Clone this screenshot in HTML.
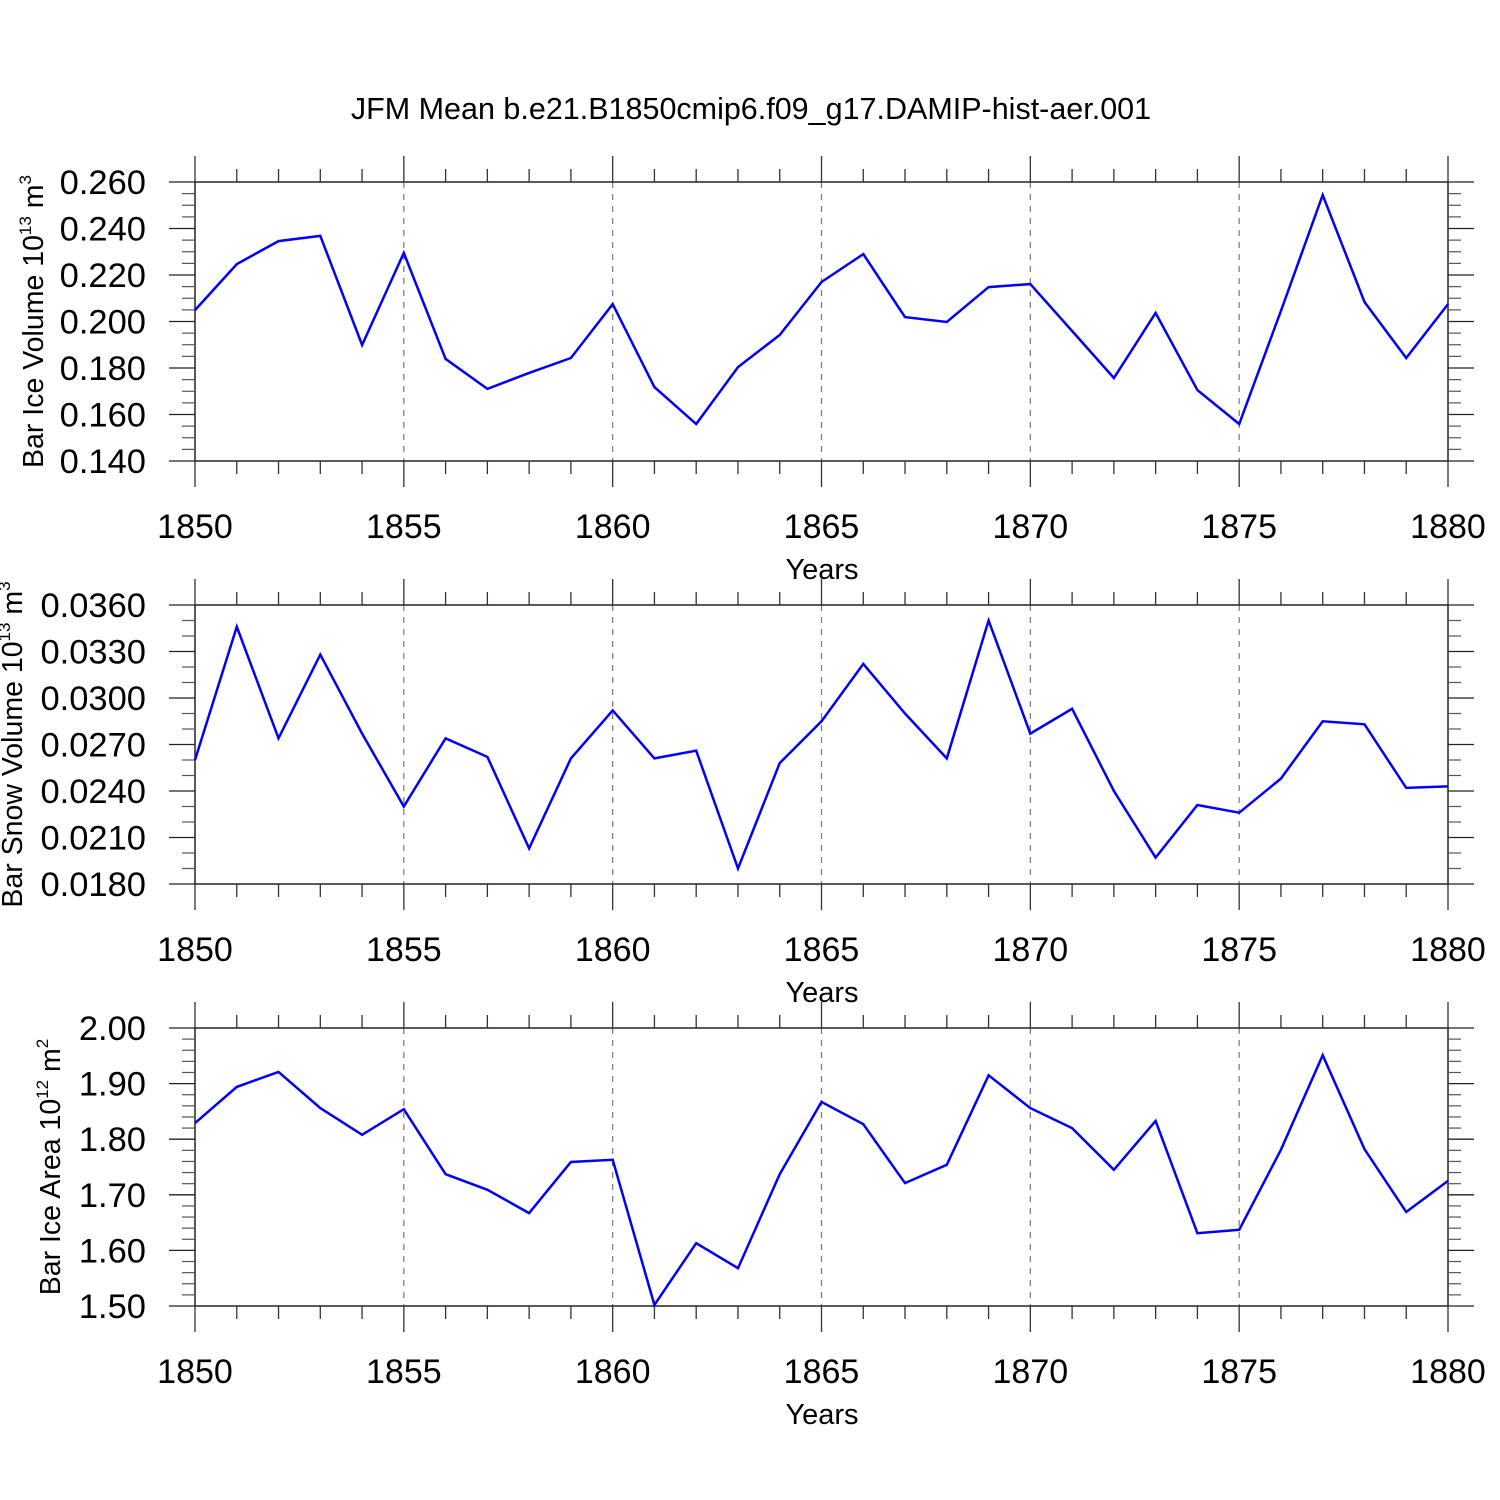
<!DOCTYPE html>
<html><head><meta charset="utf-8"><style>
html,body{margin:0;padding:0;background:#fff;}
svg{display:block;font-family:"Liberation Sans",Arial,sans-serif;}
</style></head><body>
<svg id="chart" width="1500" height="1500" viewBox="0 0 1500 1500" xmlns="http://www.w3.org/2000/svg">
<text x="751" y="119" font-size="30.5" text-anchor="middle">JFM Mean b.e21.B1850cmip6.f09_g17.DAMIP-hist-aer.001</text>
</svg>
<script>
const years = [1850,1851,1852,1853,1854,1855,1856,1857,1858,1859,1860,1861,1862,1863,1864,1865,1866,1867,1868,1869,1870,1871,1872,1873,1874,1875,1876,1877,1878,1879,1880];
const iceVolume = [0.2049,0.2247,0.2346,0.2368,0.1899,0.2295,0.1839,0.1710,0.1779,0.1843,0.2075,0.1718,0.1559,0.1804,0.1942,0.2170,0.2290,0.2019,0.1998,0.2148,0.2161,0.1959,0.1757,0.2037,0.1705,0.1559,0.2045,0.2544,0.2084,0.1843,0.2075];
const snowVolume = [0.0260,0.0346,0.0274,0.0328,0.0277,0.0230,0.0274,0.0262,0.0203,0.0261,0.0292,0.0261,0.0266,0.0190,0.0258,0.0285,0.0322,0.0290,0.0261,0.0350,0.0277,0.0293,0.0240,0.0197,0.0231,0.0226,0.0248,0.0285,0.0283,0.0242,0.0243];
const iceArea = [1.829,1.894,1.921,1.856,1.808,1.854,1.737,1.709,1.667,1.759,1.763,1.502,1.613,1.568,1.737,1.867,1.827,1.721,1.754,1.915,1.856,1.820,1.745,1.833,1.631,1.637,1.781,1.951,1.782,1.669,1.725];
const xTickLabels = ["1850","1855","1860","1865","1870","1875","1880"];
const yTicks1 = [0.140,0.160,0.180,0.200,0.220,0.240,0.260];
const yTicks2 = [0.018,0.021,0.024,0.027,0.030,0.033,0.036];
const yTicks3 = [1.50,1.60,1.70,1.80,1.90,2.00];

const svg = document.getElementById('chart');
const NS = 'http://www.w3.org/2000/svg';
function mk(tag, attrs, parent){
  const e = document.createElementNS(NS, tag);
  for (const k in attrs) e.setAttribute(k, attrs[k]);
  (parent||svg).appendChild(e);
  return e;
}
const X0 = 195, X1 = 1448;
function xs(v){ return X0 + (v-1850)/(1880-1850)*(X1-X0); }

function panel(cfg){
  const {top, bot, ymin, ymax, ticks, minors, decimals, values, title, sup, unit, titleX, name} = cfg;
  const ys = v => bot - (v-ymin)/(ymax-ymin)*(bot-top);
  const g = mk('g', {});
  
  
  for (let yr=1855; yr<=1875; yr+=5){
    const l = mk('line', {x1:xs(yr), x2:xs(yr), y1:top, y2:bot, stroke:'#777', 'stroke-width':1.2, 'stroke-dasharray':'6,6'}, g);
    
    
  }
  const fr = mk('rect', {x:X0, y:top, width:X1-X0, height:bot-top, fill:'none', stroke:'#222', 'stroke-width':1.5}, g);
  
  
  for (const yr of years){
    const major = (yr % 5 === 0);
    const len = major ? 26 : 13;
    const x = xs(yr);
    mk('line', {x1:x, x2:x, y1:top-len, y2:top, stroke:'#333', 'stroke-width':1.3}, g);
    mk('line', {x1:x, x2:x, y1:bot, y2:bot+len, stroke:'#333', 'stroke-width':1.3}, g);
  }
  xTickLabels.forEach(s => {
    const t = mk('text', {x:xs(+s), y:bot+77, 'font-size':34, 'text-anchor':'middle'}, g);
    t.textContent = s;
    
    
  });
  const xt = mk('text', {x:822, y:bot+118, 'font-size':29, 'text-anchor':'middle'}, g);
  xt.textContent = 'Years';
  
  
  for (let i=0;i<ticks.length;i++){
    const y = ys(ticks[i]);
    mk('line', {x1:X0-26, x2:X0, y1:y, y2:y, stroke:'#222', 'stroke-width':1.3}, g);
    mk('line', {x1:X1, x2:X1+26, y1:y, y2:y, stroke:'#222', 'stroke-width':1.3}, g);
    const t = mk('text', {x:146, y:y+12, 'font-size':34.5, 'text-anchor':'end'}, g);
    t.textContent = ticks[i].toFixed(decimals);
    
    
    if (i < ticks.length-1){
      const step = (ticks[i+1]-ticks[i])/(minors+1);
      for (let m=1;m<=minors;m++){
        const ym = ys(ticks[i]+m*step);
        mk('line', {x1:X0-13, x2:X0, y1:ym, y2:ym, stroke:'#555', 'stroke-width':1.2}, g);
        mk('line', {x1:X1, x2:X1+13, y1:ym, y2:ym, stroke:'#555', 'stroke-width':1.2}, g);
      }
    }
  }
  const cy = (top+bot)/2;
  const yt = mk('text', {x:0, y:0, 'font-size':28.5, 'text-anchor':'middle', transform:`translate(${titleX},${cy}) rotate(-90)`}, g);
  
  
  yt.appendChild(document.createTextNode(title + ' 10'));
  const s1 = mk('tspan', {'font-size':17, dy:-12}, yt); s1.textContent = sup;
  const s2 = mk('tspan', {dy:12}, yt); s2.textContent = ' m';
  const s3 = mk('tspan', {'font-size':17, dy:-12}, yt); s3.textContent = unit;
  const pts = values.map((v,i)=> xs(years[i]).toFixed(1)+','+ys(v).toFixed(1)).join(' ');
  const pl = mk('polyline', {points:pts, fill:'none', stroke:'#0000ff', 'stroke-width':2.5, 'stroke-linejoin':'miter'}, g);
  
  
}

panel({top:182, bot:461, ymin:0.140, ymax:0.260, ticks:yTicks1, minors:3, decimals:3, values:iceVolume, title:'Bar Ice Volume', sup:'13', unit:'3', titleX:43, name:'ice-volume'});
panel({top:605, bot:884, ymin:0.018, ymax:0.036, ticks:yTicks2, minors:2, decimals:4, values:snowVolume, title:'Bar Snow Volume', sup:'13', unit:'3', titleX:22, name:'snow-volume'});
panel({top:1028, bot:1306, ymin:1.50, ymax:2.00, ticks:yTicks3, minors:4, decimals:2, values:iceArea, title:'Bar Ice Area', sup:'12', unit:'2', titleX:60, name:'ice-area'});
</script>
</body></html>
